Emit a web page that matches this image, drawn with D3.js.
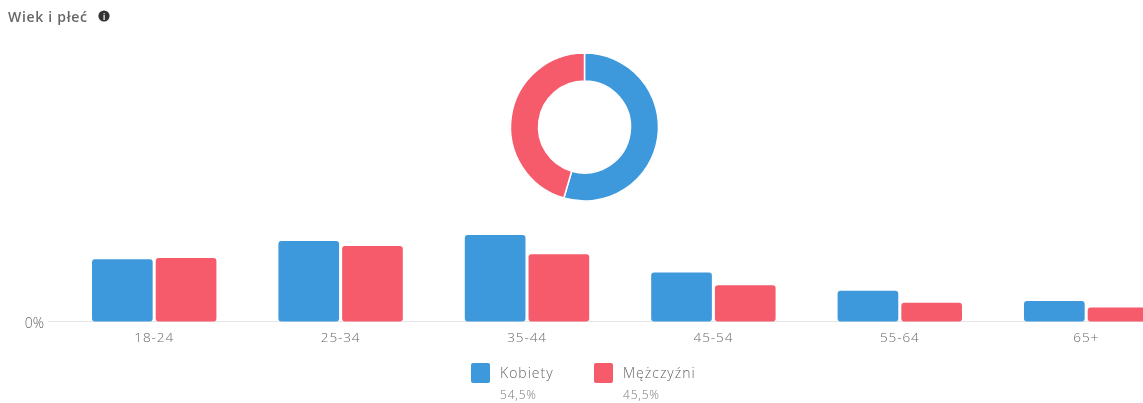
<!DOCTYPE html>
<html>
<head>
<meta charset="utf-8">
<script src="https://cdnjs.cloudflare.com/ajax/libs/d3/7.8.5/d3.min.js"></script>
<style>
  html, body { margin: 0; padding: 0; background: #fff; }
  svg { display: block; filter: blur(0.6px); }
  svg text { font-family: "Open Sans", sans-serif; }
</style>
</head>
<body>
<svg id="chart" width="1143" height="403"></svg>
<script>
const ageGroups = ["18-24", "25-34", "35-44", "45-54", "55-64", "65+"];
const women = [10.3, 13.3, 14.3, 8.1, 5.1, 3.4];
const men = [10.5, 12.5, 11.1, 6.0, 3.1, 2.3];
const genders = ["Kobiety", "Mężczyźni"];
const genderShare = [54.5, 45.5];
const shareLabels = ["54,5%", "45,5%"];
const colors = ["#3d98dc", "#f55b6b"];

const svg = d3.select("#chart");

// title + info icon
svg.append("text")
  .attr("x", 8).attr("y", 22)
  .attr("font-size", 14).attr("font-weight", 600).attr("fill", "#666")
  .attr("letter-spacing", 0.7)
  .text("Wiek i płeć");
svg.append("circle").attr("cx", 104).attr("cy", 16).attr("r", 5.6).attr("fill", "#333");
svg.append("text")
  .attr("x", 104).attr("y", 19.5)
  .attr("text-anchor", "middle")
  .attr("font-size", 9).attr("font-weight", 700).attr("fill", "#ddd")
  .text("i");

// donut
const pie = d3.pie().sort(null).value(d => d);
const arc = d3.arc().innerRadius(46).outerRadius(74);
svg.append("g")
  .attr("transform", "translate(584.5,127)")
  .selectAll("path")
  .data(pie(genderShare))
  .enter().append("path")
  .attr("d", arc)
  .attr("fill", (d, i) => colors[i])
  .attr("stroke", "#fff")
  .attr("stroke-width", 1.5);

// bars
const x = d3.scaleBand().domain(ageGroups).range([61, 1179.4]);
const inner = d3.scaleBand().domain(genders).range([31, 155.4]).paddingInner(0.048);
const y = d3.scaleLinear().domain([0, 14.3]).range([321.5, 235]);

const axis = svg.append("g")
  .attr("transform", "translate(0,321.5)")
  .call(d3.axisBottom(x).tickSize(0).tickPadding(11));
axis.select(".domain").remove();
axis.selectAll("text")
  .attr("font-size", 13.5).attr("font-weight", 300).attr("fill", "#666")
  .attr("letter-spacing", 0.9);

svg.append("line")
  .attr("x1", 48).attr("x2", 1143)
  .attr("y1", 321.5).attr("y2", 321.5)
  .attr("stroke", "#e6e6e6");

const yAxis = svg.append("g")
  .attr("transform", "translate(44,1.5)")
  .call(d3.axisLeft(y).tickValues([0]).tickFormat(d => d + "%").tickSize(0).tickPadding(0));
yAxis.select(".domain").remove();
yAxis.selectAll("text")
  .attr("font-size", 14).attr("font-weight", 300).attr("fill", "#666");

const group = svg.append("g")
  .selectAll("g")
  .data(ageGroups)
  .enter().append("g")
  .attr("transform", d => `translate(${x(d)},0)`);

group.selectAll("rect")
  .data((d, i) => [women[i], men[i]])
  .enter().append("rect")
  .attr("x", (d, i) => inner(genders[i]))
  .attr("y", d => y(d))
  .attr("width", inner.bandwidth())
  .attr("height", d => y(0) - y(d))
  .attr("rx", 3)
  .attr("fill", (d, i) => colors[i]);

// legend
const legendX = d3.scaleOrdinal().domain(genders).range([471, 594]);
const legend = svg.append("g")
  .selectAll("g")
  .data(genders)
  .enter().append("g")
  .attr("transform", d => `translate(${legendX(d)},363)`);

legend.append("rect")
  .attr("width", 19).attr("height", 20).attr("rx", 2)
  .attr("fill", (d, i) => colors[i]);
legend.append("text")
  .attr("x", 29).attr("y", 14.5)
  .attr("font-size", 14).attr("font-weight", 300).attr("fill", "#666")
  .attr("letter-spacing", 1)
  .text(d => d);
legend.append("text")
  .attr("x", 29).attr("y", 36)
  .attr("font-size", 12).attr("font-weight", 300).attr("fill", "#777")
  .attr("letter-spacing", 0.8)
  .text((d, i) => shareLabels[i]);
</script>
</body>
</html>
